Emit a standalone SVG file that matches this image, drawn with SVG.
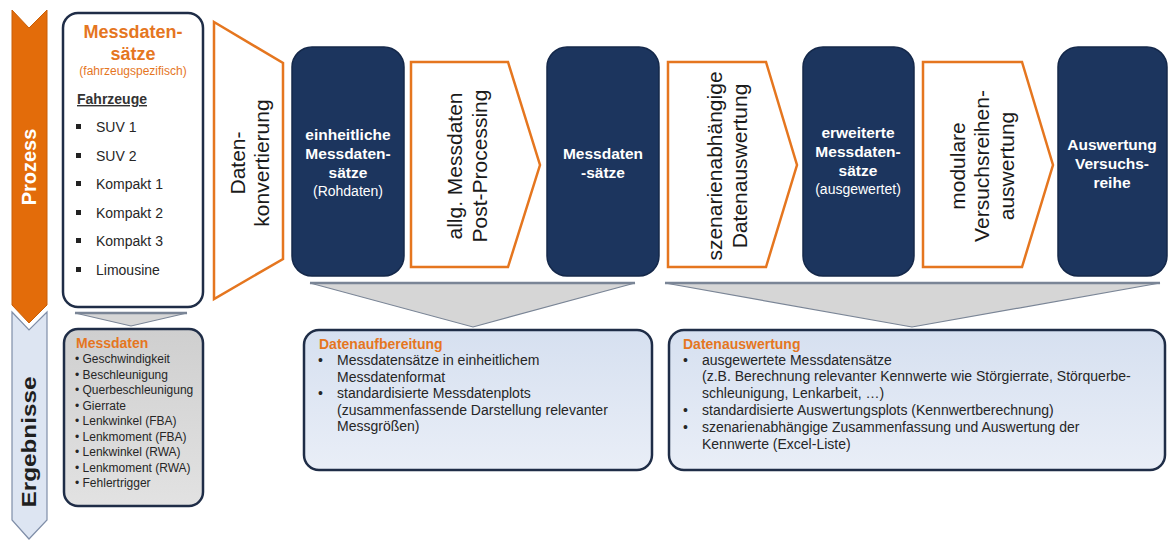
<svg xmlns="http://www.w3.org/2000/svg" width="1168" height="541" viewBox="0 0 1168 541">
<defs>
<linearGradient id="gBlue" x1="0" y1="0" x2="0" y2="1">
<stop offset="0" stop-color="#d6e0f0"/>
<stop offset="1" stop-color="#e9eef7"/>
</linearGradient>
<linearGradient id="gGray" x1="0" y1="0" x2="0" y2="1">
<stop offset="0" stop-color="#cfcfcf"/>
<stop offset="1" stop-color="#e2e2e2"/>
</linearGradient>
</defs>
<style>
text{font-family:"Liberation Sans",Arial,sans-serif;}
.dark{fill:#1c355e;stroke:#14284a;stroke-width:1.5;}
.proc{fill:#ffffff;stroke:#e5761f;stroke-width:2.5;stroke-linejoin:miter;}
.funnel{fill:#d6d6d6;stroke:#7a8596;stroke-width:1.2;}
.ftop{stroke:#7a8596;stroke-width:2.5;}
.res{fill:url(#gBlue);stroke:#1f2d47;stroke-width:2.5;}
.wt{fill:#ffffff;font-size:15.5px;font-weight:bold;text-anchor:middle;}
.ws{fill:#ffffff;font-size:14px;text-anchor:middle;}
.pt{fill:#1a1a1a;font-size:21px;text-anchor:middle;}
.or{fill:#e5761f;font-weight:bold;}
.lt{fill:#262626;font-size:14px;}
.ml{fill:#262626;font-size:12px;}
</style>

<g id="side-prozess">
<polygon points="12,10 29,28 47,10 47,305 29,323 12,305" fill="#e36c0a" stroke="#c95f08" stroke-width="1"/>
<text transform="translate(36,167) rotate(-90)" text-anchor="middle" fill="#ffffff" font-size="20" font-weight="bold">Prozess</text>
</g>
<g id="side-ergebnisse">
<polygon points="12,312 29,330 47,312 47,520 29,539 12,520" fill="#dde5f2" stroke="#7f8ea8" stroke-width="1.2"/>
<text transform="translate(36,442) rotate(-90)" text-anchor="middle" fill="#1f1f1f" font-size="20" font-weight="bold" textLength="131" lengthAdjust="spacingAndGlyphs">Ergebnisse</text>
</g>

<g id="connectors">
<polygon class="funnel" points="75,313 187,313 131,326"/>
<line class="ftop" x1="75" y1="313" x2="187" y2="313"/>
<polygon class="funnel" points="310,283 635,283 473,327"/>
<line class="ftop" x1="310" y1="283" x2="635" y2="283"/>
<polygon class="funnel" points="665,283 1160,283 912,327"/>
<line class="ftop" x1="665" y1="283" x2="1160" y2="283"/>
</g>

<g id="n-messdatensaetze">
<rect x="63" y="13" width="140" height="294" rx="15" fill="#ffffff" stroke="#1f2d47" stroke-width="2.5"/>
<text x="133" y="38" text-anchor="middle" class="or" font-size="18">Messdaten-</text>
<text x="133" y="60" text-anchor="middle" class="or" font-size="18">sätze</text>
<text x="133" y="75" text-anchor="middle" fill="#e5761f" font-size="12">(fahrzeugspezifisch)</text>
<text x="77" y="104" fill="#333333" font-size="14" font-weight="bold" text-decoration="underline">Fahrzeuge</text>
<g fill="#222222">
<rect x="76" y="124" width="5" height="5"/>
<rect x="76" y="153" width="5" height="5"/>
<rect x="76" y="181" width="5" height="5"/>
<rect x="76" y="210" width="5" height="5"/>
<rect x="76" y="238" width="5" height="5"/>
<rect x="76" y="267" width="5" height="5"/>
</g>
<text class="lt" x="96" y="132">SUV 1</text>
<text class="lt" x="96" y="161">SUV 2</text>
<text class="lt" x="96" y="189">Kompakt 1</text>
<text class="lt" x="96" y="218">Kompakt 2</text>
<text class="lt" x="96" y="246">Kompakt 3</text>
<text class="lt" x="96" y="275">Limousine</text>
</g>

<g id="n-konvertierung">
<polygon class="proc" points="214,22 283,63 283,259 214,299"/>
<g transform="translate(0,163) rotate(-90)">
<text class="pt" x="0" y="245">Daten-</text>
<text class="pt" x="0" y="269">konvertierung</text>
</g>
</g>

<g id="n-rohdaten">
<rect class="dark" x="292" y="47" width="112" height="229" rx="20"/>
<text class="wt" x="348" y="140">einheitliche</text>
<text class="wt" x="348" y="159">Messdaten-</text>
<text class="wt" x="348" y="178">sätze</text>
<text class="ws" x="348" y="196">(Rohdaten)</text>
</g>

<g id="n-postprocessing">
<polygon class="proc" points="411,62 508,62 540,165 508,267 411,267"/>
<g transform="translate(0,166) rotate(-90)">
<text class="pt" x="0" y="462">allg. Messdaten</text>
<text class="pt" x="0" y="487">Post-Processing</text>
</g>
</g>

<g id="n-messdaten2">
<rect class="dark" x="547" y="47" width="112" height="229" rx="20"/>
<text class="wt" x="603" y="159">Messdaten</text>
<text class="wt" x="603" y="178">-sätze</text>
</g>

<g id="n-szenarien">
<polygon class="proc" points="668,62 766,62 797,165 766,267 668,267"/>
<g transform="translate(0,166) rotate(-90)">
<text class="pt" x="0" y="722">szenarienabhängige</text>
<text class="pt" x="0" y="747">Datenauswertung</text>
</g>
</g>

<g id="n-erweitert">
<rect class="dark" x="803" y="47" width="111" height="229" rx="20"/>
<text class="wt" x="858" y="138">erweiterte</text>
<text class="wt" x="858" y="157">Messdaten-</text>
<text class="wt" x="858" y="176">sätze</text>
<text class="ws" x="858" y="194" font-size="12.5">(ausgewertet)</text>
</g>

<g id="n-modular">
<polygon class="proc" points="923,62 1022,62 1053,165 1022,267 923,267"/>
<g transform="translate(0,166) rotate(-90)">
<text class="pt" x="0" y="965">modulare</text>
<text class="pt" x="0" y="989">Versuchsreihen-</text>
<text class="pt" x="0" y="1014">auswertung</text>
</g>
</g>

<g id="n-versuchsreihe">
<rect class="dark" x="1058" y="47" width="109" height="229" rx="20"/>
<text class="wt" x="1112" y="150">Auswertung</text>
<text class="wt" x="1112" y="169">Versuchs-</text>
<text class="wt" x="1112" y="188">reihe</text>
</g>

<g id="n-messdaten-ergebnis">
<rect x="64" y="329" width="139" height="177" rx="14" fill="url(#gGray)" stroke="#1f2d47" stroke-width="2.5"/>
<text x="76" y="348" class="or" font-size="14">Messdaten</text>
<g class="ml">
<text x="75" y="363">•  Geschwindigkeit</text>
<text x="75" y="379">•  Beschleunigung</text>
<text x="75" y="394">•  Querbeschleunigung</text>
<text x="75" y="410">•  Gierrate</text>
<text x="75" y="425">•  Lenkwinkel (FBA)</text>
<text x="75" y="441">•  Lenkmoment (FBA)</text>
<text x="75" y="456">•  Lenkwinkel (RWA)</text>
<text x="75" y="472">•  Lenkmoment (RWA)</text>
<text x="75" y="487">•  Fehlertrigger</text>
</g>
</g>

<g id="n-datenaufbereitung">
<rect class="res" x="304" y="330" width="348" height="140" rx="15"/>
<text x="319" y="349" class="or" font-size="14">Datenaufbereitung</text>
<g class="lt">
<text x="318" y="365">•</text><text x="337" y="365">Messdatensätze in einheitlichem</text>
<text x="337" y="382">Messdatenformat</text>
<text x="318" y="398">•</text><text x="337" y="398">standardisierte Messdatenplots</text>
<text x="337" y="415">(zusammenfassende Darstellung relevanter</text>
<text x="337" y="431">Messgrößen)</text>
</g>
</g>

<g id="n-datenauswertung">
<rect class="res" x="669" y="330" width="496" height="140" rx="15"/>
<text x="683" y="349" class="or" font-size="14">Datenauswertung</text>
<g class="lt">
<text x="683" y="365">•</text><text x="702" y="365">ausgewertete Messdatensätze</text>
<text x="702" y="381">(z.B. Berechnung relevanter Kennwerte wie Störgierrate, Störquerbe-</text>
<text x="702" y="398">schleunigung, Lenkarbeit, …)</text>
<text x="683" y="415">•</text><text x="702" y="415">standardisierte Auswertungsplots (Kennwertberechnung)</text>
<text x="683" y="432">•</text><text x="702" y="432">szenarienabhängige Zusammenfassung und Auswertung der</text>
<text x="702" y="449">Kennwerte (Excel-Liste)</text>
</g>
</g>
</svg>
